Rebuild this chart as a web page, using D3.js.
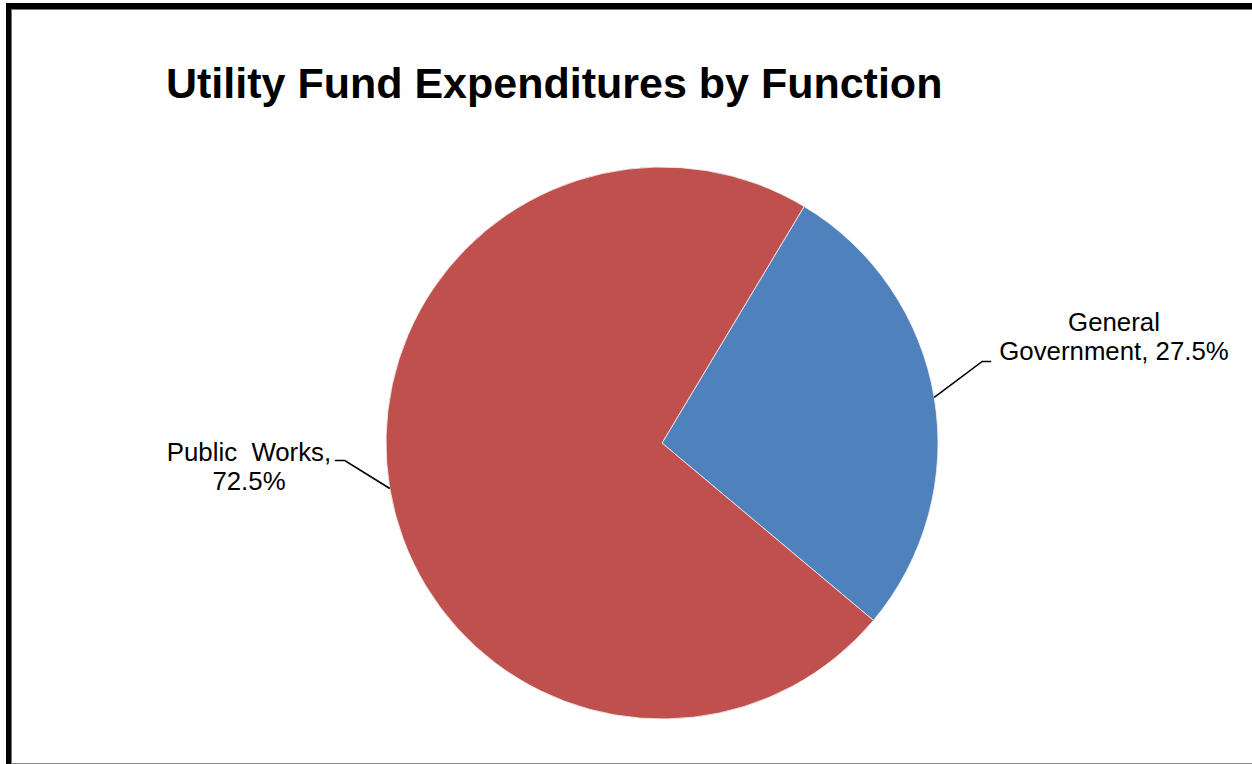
<!DOCTYPE html>
<html>
<head>
<meta charset="utf-8">
<script src="https://cdn.jsdelivr.net/npm/d3@7"></script>
<style>
  html, body { margin: 0; padding: 0; background: #fff; }
  svg { display: block; }
</style>
</head>
<body>
<svg id="chart" width="1252" height="764"></svg>
<script>
// Expenditure shares by function (percent)
const categories = ["General Government", "Public Works"];
const shares = [27.5, 72.5];
const labelLines = [["General", "Government, 27.5%"], ["Public  Works,", "72.5%"]];
const colors = ["#4F81BD", "#C0504D"];

const W = 1252, H = 764;
const svg = d3.select("#chart");

// Frame
svg.append("rect").attr("x", 6).attr("y", 3).attr("width", W).attr("height", 6).attr("fill", "#000");
svg.append("rect").attr("x", 6).attr("y", 3).attr("width", 5).attr("height", H).attr("fill", "#000");
svg.append("line").attr("x1", 11).attr("x2", W).attr("y1", 9.5).attr("y2", 9.5).attr("stroke", "#777").attr("stroke-width", 1);
svg.append("line").attr("x1", 11.5).attr("x2", 11.5).attr("y1", 9).attr("y2", H).attr("stroke", "#777").attr("stroke-width", 1);
svg.append("line").attr("x1", 11).attr("x2", W).attr("y1", 763.5).attr("y2", 763.5).attr("stroke", "#888").attr("stroke-width", 1);

// Title
svg.append("text")
  .attr("x", 166).attr("y", 98)
  .attr("font-family", "Liberation Sans, Arial, sans-serif")
  .attr("font-weight", "bold")
  .attr("font-size", 43)
  .attr("fill", "#000")
  .text("Utility Fund Expenditures by Function");

// Pie
const cx = 662, cy = 443, r = 276;
const startDeg = 31;
const pie = d3.pie().sort(null).value(d => d)
  .startAngle(startDeg * Math.PI / 180)
  .endAngle((startDeg + 360) * Math.PI / 180);
const arcs = pie(shares);
const arc = d3.arc().innerRadius(0).outerRadius(r);

const g = svg.append("g").attr("transform", `translate(${cx},${cy})`);
g.selectAll("path").data(arcs).join("path")
  .attr("d", arc)
  .attr("fill", (d, i) => colors[i])
  .attr("stroke", "#f4f4f4")
  .attr("stroke-width", 0.8);

// Leader lines and labels (offsets of elbow and text from the slice edge)
const labelLayout = [
  { elbow: [48, -36], tail: 9, textX: 1114, textY: 331, dir: 1 },
  { elbow: [-45, -28], tail: -10, textX: 249, textY: 461, dir: -1 }
];
arcs.forEach((d, i) => {
  const mid = (d.startAngle + d.endAngle) / 2;
  const ex = cx + r * Math.sin(mid), ey = cy - r * Math.cos(mid);
  const L = labelLayout[i];
  const bx = ex + L.elbow[0], by = ey + L.elbow[1];
  svg.append("polyline")
    .attr("points", `${ex},${ey} ${bx},${by} ${bx + L.tail},${by}`)
    .attr("fill", "none").attr("stroke", "#000").attr("stroke-width", 1.6);
  const t = svg.append("text")
    .attr("font-family", "Liberation Sans, Arial, sans-serif")
    .attr("font-size", 25.8)
    .attr("fill", "#000")
    .attr("text-anchor", "middle");
  labelLines[i].forEach((line, k) => {
    t.append("tspan").attr("x", L.textX).attr("y", L.textY + k * 29).attr("xml:space", "preserve").text(line);
  });
});
</script>
</body>
</html>
